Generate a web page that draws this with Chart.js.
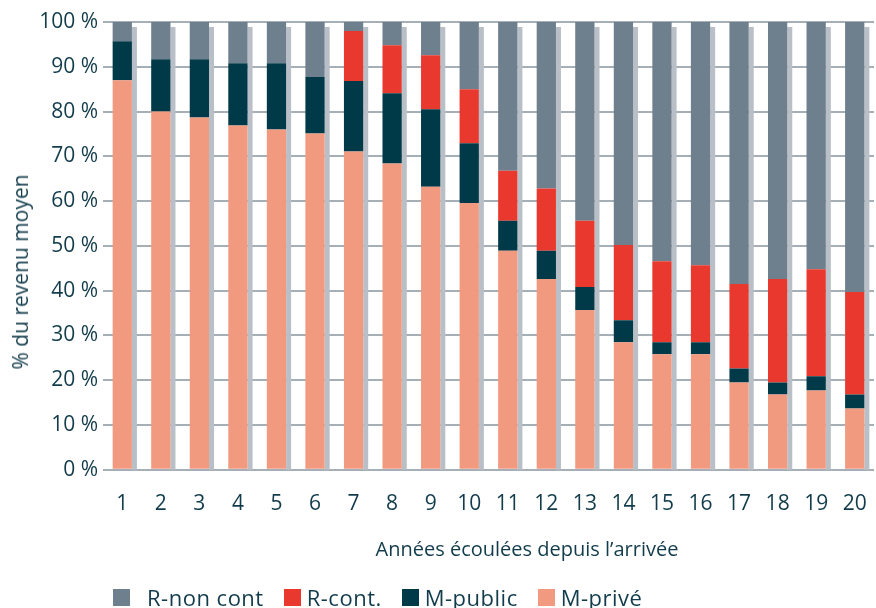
<!DOCTYPE html>
<html lang="fr">
<head>
  <meta charset="UTF-8">
  <script src="https://cdn.jsdelivr.net/npm/chart.js"></script>
  <style>
    body { margin: 0; background: #fff; font-family: 'Open Sans', sans-serif; color: #123c4b; }
    .wrap { position: relative; width: 876px; height: 608px; }
    #revChart { position: absolute; left: 0; top: 0; }
    .ytitle {
      position: absolute; left: 20px; top: 272px;
      transform: translate(-50%, -50%) rotate(-90deg);
      white-space: nowrap; font-size: 21px; line-height: 24px;
    }
    .xtitle {
      position: absolute; left: 527px; top: 537px;
      transform: translateX(-50%);
      white-space: nowrap; font-size: 20px; line-height: 24px;
    }
    .legend {
      position: absolute; left: 113px; top: 584px;
      display: flex; align-items: center;
      font-size: 22px; line-height: 26px; letter-spacing: 0.5px;
    }
    .legend .item { display: flex; align-items: center; margin-right: 20px; }
    .legend .box { width: 17px; height: 17px; margin-right: 6px; }
    .legend .item:first-child .box { margin-right: 17px; }
  </style>
</head>
<body>
  <div class="wrap">
    <canvas id="revChart" width="876" height="608"></canvas>
    <div class="ytitle">% du revenu moyen</div>
    <div class="xtitle">Années écoulées depuis l’arrivée</div>
    <div class="legend" id="legend"></div>
  </div>

  <script>
    const years = ['1','2','3','4','5','6','7','8','9','10','11','12','13','14','15','16','17','18','19','20'];

    const mPrive   = [87, 80, 78.7, 76.9, 76, 75.1, 71.1, 68.4, 63.2, 59.6, 48.9, 42.6, 35.7, 28.5, 25.8, 25.8, 19.5, 16.8, 17.7, 13.7];
    const mPublic  = [8.7, 11.7, 13, 13.9, 14.8, 12.6, 15.7, 15.7, 17.3, 13.3, 6.7, 6.3, 5.1, 4.9, 2.7, 2.7, 3.1, 2.7, 3.2, 3.1];
    const rCont    = [0, 0, 0, 0, 0, 0, 11.2, 10.7, 12.1, 12.1, 11.2, 13.9, 14.8, 16.8, 18.1, 17.2, 18.9, 23.1, 23.9, 22.9];
    const rNonCont = [4.3, 8.3, 8.3, 9.2, 9.2, 12.3, 2.0, 5.2, 7.4, 15.0, 33.2, 37.2, 44.4, 49.8, 53.4, 54.3, 58.5, 57.4, 55.2, 60.3];

    const yTicks = [0, 10, 20, 30, 40, 50, 60, 70, 80, 90, 100];

    const textColor = '#123c4b';
    const seriesColors = {
      'M-privé': '#f19a80',
      'M-public': '#003a49',
      'R-cont.': '#e9392f',
      'R-non cont': '#6e7f8d'
    };

    // grey shadow strip at the right of each stacked bar
    const shadowPlugin = {
      id: 'barShadow',
      beforeDatasetsDraw(chart) {
        const ctx = chart.ctx;
        const yScale = chart.scales.y;
        const metas = chart.getSortedVisibleDatasetMetas();
        const topMeta = metas[metas.length - 1];
        const base = yScale.getPixelForValue(0);
        ctx.save();
        ctx.fillStyle = '#b9bfc6';
        topMeta.data.forEach(bar => {
          const right = bar.x + bar.width / 2;
          ctx.fillRect(right, bar.y + 5, 5, base - bar.y - 5);
        });
        ctx.restore();
      }
    };

    const datasets = [
      { label: 'M-privé', data: mPrive },
      { label: 'M-public', data: mPublic },
      { label: 'R-cont.', data: rCont },
      { label: 'R-non cont', data: rNonCont }
    ].map(d => ({
      ...d,
      backgroundColor: seriesColors[d.label],
      borderWidth: 0,
      barPercentage: 0.5,
      categoryPercentage: 1.0
    }));

    new Chart(document.getElementById('revChart'), {
      type: 'bar',
      data: { labels: years, datasets: datasets },
      options: {
        responsive: false,
        animation: false,
        layout: { padding: { top: 22, right: 2, bottom: 89, left: 0 } },
        plugins: {
          legend: { display: false },
          tooltip: { enabled: false }
        },
        scales: {
          x: {
            stacked: true,
            grid: { display: true, drawOnChartArea: false, drawTicks: true, tickLength: 20, color: 'rgba(0,0,0,0)' },
            border: { display: false },
            ticks: { color: textColor, font: { family: 'Open Sans', size: 21 }, padding: 2 }
          },
          y: {
            stacked: true,
            min: 0,
            max: 100,
            afterFit(scale) { scale.width = 103; },
            afterBuildTicks(scale) { scale.ticks = yTicks.map(v => ({ value: v })); },
            grid: { color: '#a6aeb6', lineWidth: 2, drawTicks: false },
            border: { display: false },
            ticks: {
              color: textColor,
              font: { family: 'Open Sans', size: 21 },
              padding: 5,
              callback: v => v + ' %'
            }
          }
        }
      },
      plugins: [shadowPlugin]
    });

    // HTML legend, top series first
    const legendEl = document.getElementById('legend');
    datasets.slice().reverse().forEach(d => {
      const item = document.createElement('div');
      item.className = 'item';
      item.innerHTML = '<span class="box" style="background:' + d.backgroundColor + '"></span><span>' + d.label + '</span>';
      legendEl.appendChild(item);
    });
  </script>
</body>
</html>
